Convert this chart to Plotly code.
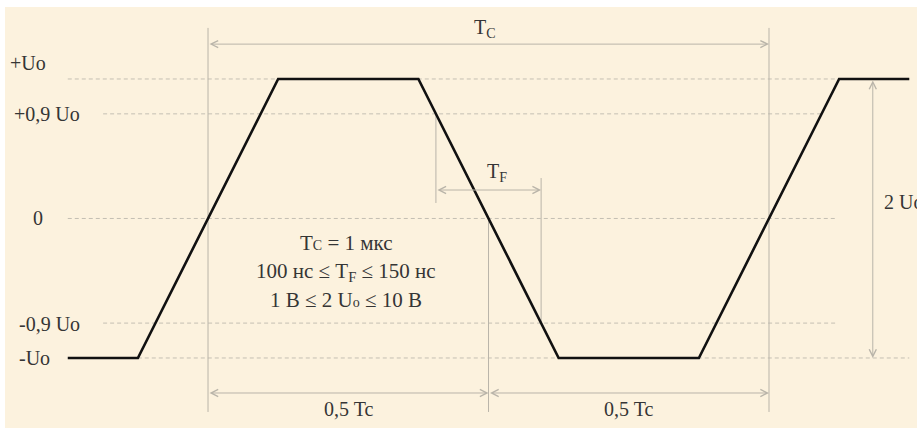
import plotly.graph_objects as go

# ---- data (time in units of Tc, voltage in units of Uo) ----
t_wave = [-0.25, -0.125, 0.125, 0.375, 0.625, 0.875, 1.125, 1.25]
u_wave = [-1, -1, 1, 1, -1, -1, 1, 1]

level_labels = ["+Uo", "+0,9 Uo", "0", "-0,9 Uo", "-Uo"]
level_pos = [1.0, 0.75, 0.0, -0.75, -1.0]          # schematic drawing positions
level_start = [-0.25, -0.187, -0.25, -0.187, -0.25]
level_end = [1.25, 1.094, 1.121, 1.121, 1.25]

tf_start = 0.40625   # crossing of +0.9 level on falling edge
tf_end = 0.59375     # crossing of -0.9 level on falling edge
period = [0.0, 1.0]
half = 0.5

notes = ["T<span style='font-size:14px'>C</span> = 1 мкс",
         "100 нс ≤ T<sub>F</sub> ≤ 150 нс",
         "1 В ≤ 2 U<span style='font-size:14px'>o</span> ≤ 10 В"]

# ---- style ----
BG = "#fcf2de"
TXT = "#353535"
THIN = "#b9b4a9"
DASH = "#c4bfb3"
FONT = "Liberation Serif"
FS = 20

fig = go.Figure()

# dashed level lines
for y0, xs, xe in zip(level_pos, level_start, level_end):
    fig.add_trace(go.Scatter(x=[xs, xe], y=[y0, y0], mode="lines",
                             line=dict(color=DASH, width=1, dash="4px,3px"),
                             hoverinfo="skip", showlegend=False))

# thin solid extension lines
ext = [
    (period[0], period[0], 1.366, -1.387),
    (period[1], period[1], 1.366, -1.387),
    (half, half, 0.0, -1.387),
    (tf_start, tf_start, 0.75, 0.111),
    (tf_end, tf_end, 0.29, -0.75),
]
for x0, x1, y0, y1 in ext:
    fig.add_trace(go.Scatter(x=[x0, x1], y=[y0, y1], mode="lines",
                             line=dict(color=THIN, width=1),
                             hoverinfo="skip", showlegend=False))

# waveform
fig.add_trace(go.Scatter(x=t_wave, y=u_wave, mode="lines",
                         line=dict(color="#111111", width=2.6),
                         hoverinfo="skip", showlegend=False))

annotations = []

def dim(x0, y0, x1, y1):
    annotations.append(dict(x=x1, y=y1, ax=x0, ay=y0, xref="x", yref="y",
                            axref="x", ayref="y", text="", showarrow=True,
                            arrowhead=5, arrowsize=1.4, arrowwidth=1,
                            arrowcolor=THIN, arrowside="end+start",
                            standoff=0, startstandoff=0))

dim(period[0], 1.25, period[1], 1.25)
dim(tf_start, 0.204, tf_end, 0.204)
dim(period[0], -1.251, half, -1.251)
dim(half, -1.251, period[1], -1.251)
dim(1.185, 1.0, 1.185, -1.0)

def label(x, y, text, xanchor="center", size=FS):
    annotations.append(dict(x=x, y=y, xref="x", yref="y", text=text,
                            showarrow=False, xanchor=xanchor, yanchor="middle",
                            font=dict(family=FONT, size=size, color=TXT)))

# level labels
label(-0.3565, 1.115, level_labels[0], "left")
label(-0.2246, level_pos[1], level_labels[1], "right")
label(-0.303, level_pos[2], level_labels[2], "center")
label(-0.2246, -0.756, level_labels[3], "right")
label(-0.3405, level_pos[4], level_labels[4], "left")

# dimension labels
label(0.494, 1.36, "T<sub>C</sub>")
label(0.515, 0.33, "T<sub>F</sub>")
label(0.25, -1.366, "0,5 Tc")
label(0.749, -1.366, "0,5 Tc")
label(1.201, 0.118, "2 Uo", "left")

# notes
for yv, txt in zip([-0.176, -0.384, -0.584], notes):
    label(0.246, yv, txt, size=21)

fig.update_layout(
    width=917, height=430,
    margin=dict(l=5, r=0, t=7, b=2),
    paper_bgcolor="white", plot_bgcolor=BG,
    annotations=annotations,
    xaxis=dict(range=[-0.3619, 1.2638], showgrid=False, zeroline=False,
               showticklabels=False, ticks="", showline=False, fixedrange=True),
    yaxis=dict(range=[-1.502, 1.516], showgrid=False, zeroline=False,
               showticklabels=False, ticks="", showline=False, fixedrange=True),
)

fig.write_html("out.html", config={"displayModeBar": False},
               post_script="document.body.style.margin='0px';")
